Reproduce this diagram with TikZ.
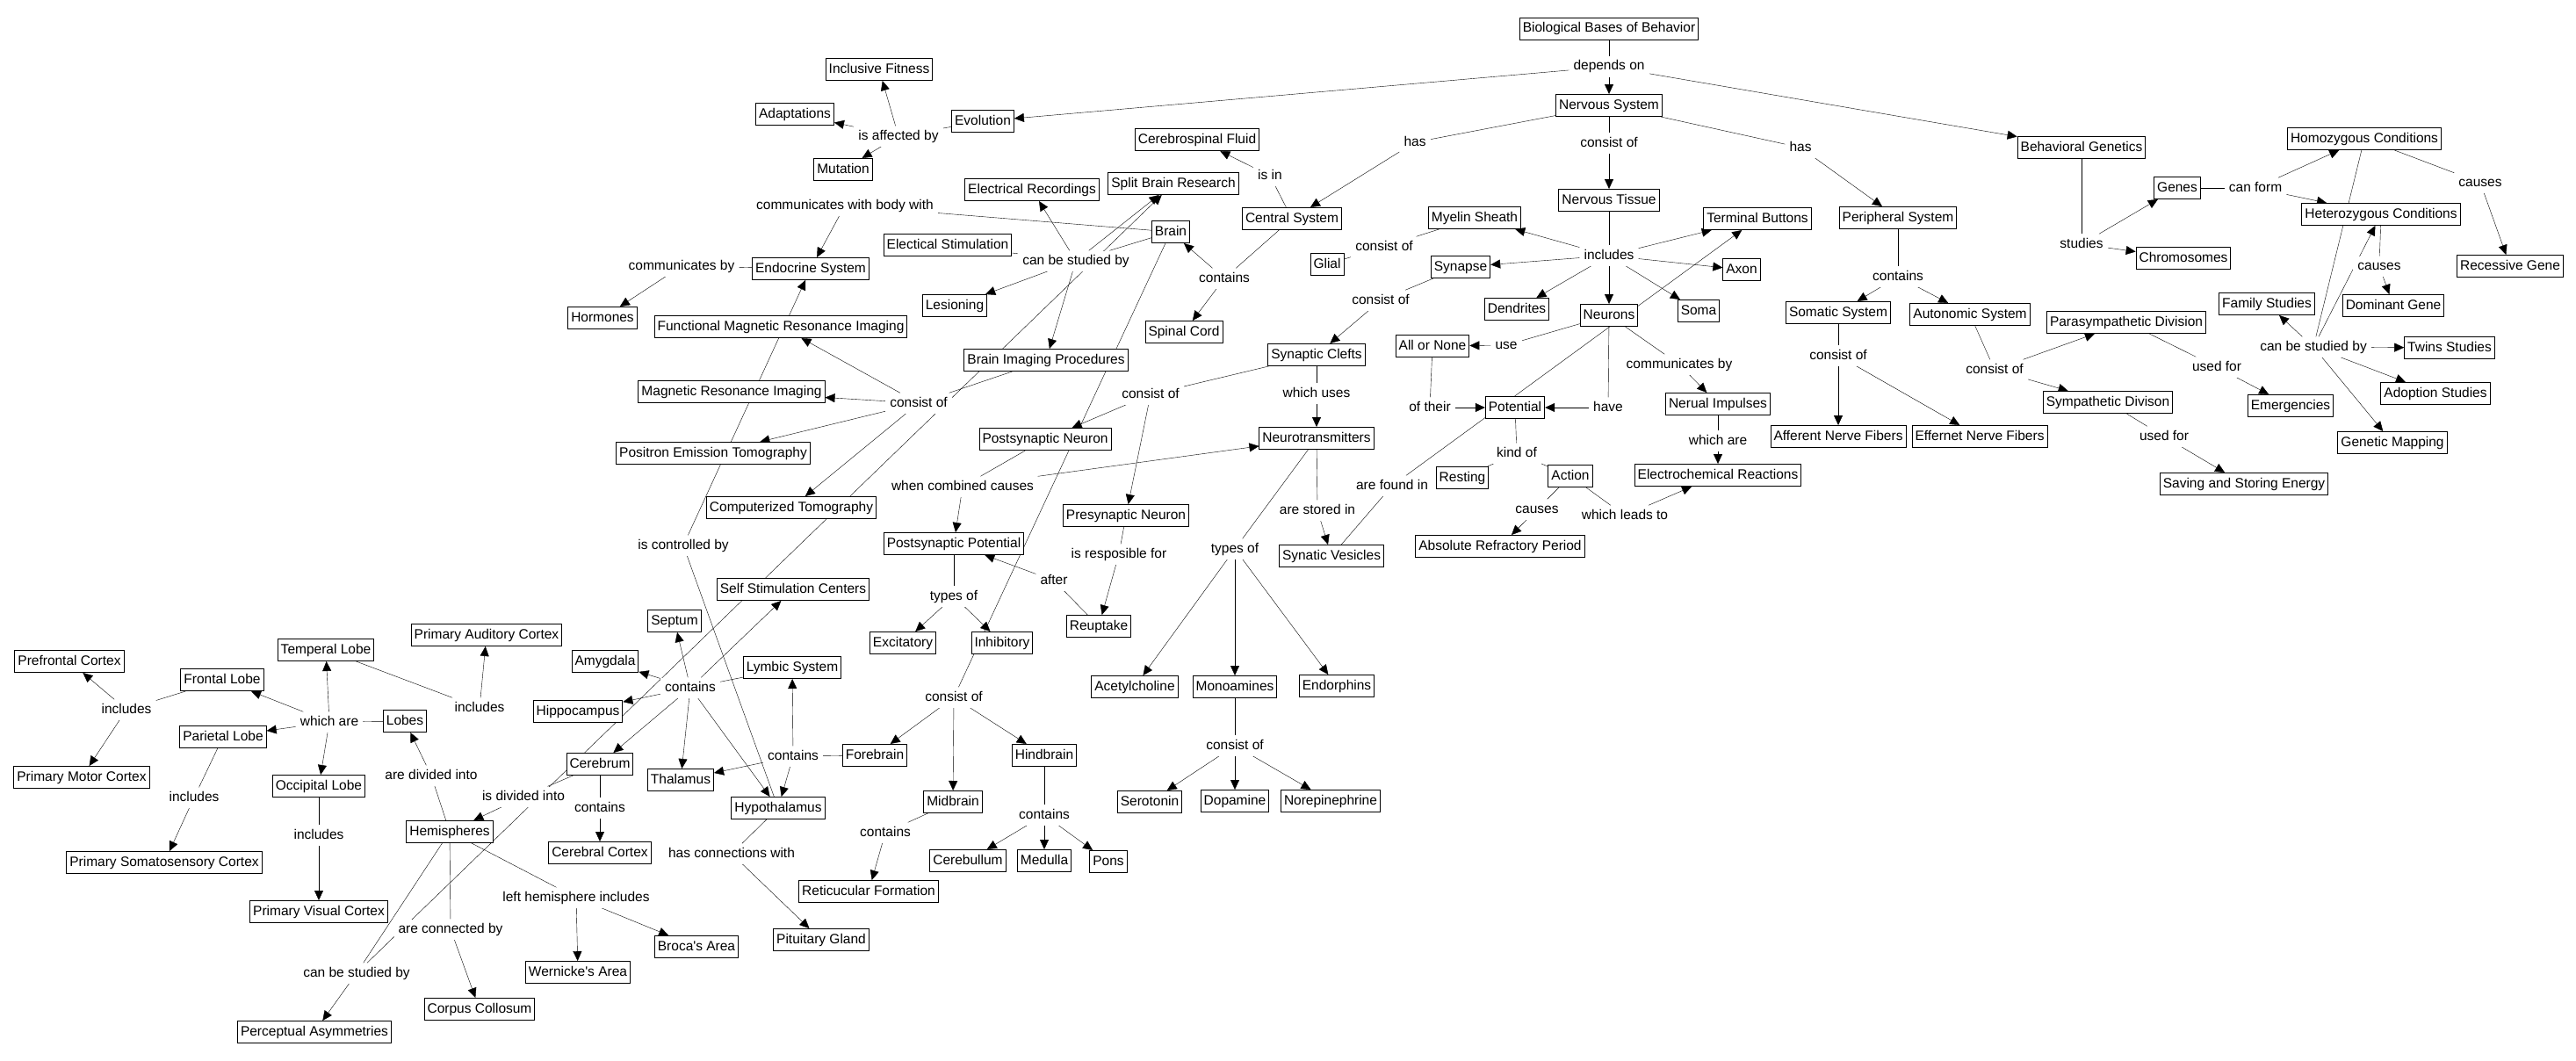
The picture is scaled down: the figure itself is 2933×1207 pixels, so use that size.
\documentclass[tikz,border=0pt]{standalone}
\usepackage{fontspec}
\setmainfont{Liberation Sans}
\usepackage{tikz}
\usetikzlibrary{positioning, arrows.meta, backgrounds}
\tikzstyle{concept} = [rectangle, draw, fill=white, line width=1pt,
    inner xsep=3.5pt, inner ysep=5pt, text height=11.5pt, text depth=3.5pt,
    font=\fontsize{15.5}{18}\selectfont]
\tikzstyle{phrase} = [fill=white, inner xsep=5pt, inner ysep=4pt,
    text height=11.5pt, text depth=3.5pt, font=\fontsize{15.5}{18}\selectfont]

\begin{document}
\begin{tikzpicture}[x=1pt, y=-1pt, node distance=44pt, >={Triangle[length=11pt,width=10pt]}]
\useasboundingbox (0,0) rectangle (2933,1207);

% Top of the map
\node [concept] (bio) at (1832,33) {Biological Bases of Behavior};
\node [phrase, below of=bio, node distance=43pt] (dep) {depends on};
\node [concept, below of=dep] (ns) {Nervous System};
\node [concept] (evol) at (1119,138) {Evolution};
\node [concept] (bgen) at (2370,168) {Behavioral Genetics};

% Evolution
\node [phrase] (affect) at (1023,155) {is affected by};
\node [concept] (incfit) at (1001,79) {Inclusive Fitness};
\node [concept] (adapt) at (905,130) {Adaptations};
\node [concept] (mutat) at (960,193) {Mutation};

% Nervous system
\node [phrase] (hasL) at (1611,162) {has};
\node [phrase, below of=ns, node distance=43pt] (consNS) {consist of};
\node [phrase] (hasR) at (2050,168) {has};
\node [concept, below of=consNS, node distance=65pt] (ntissue) {Nervous Tissue};
\node [phrase, below of=ntissue, node distance=63pt] (incl) {includes};
\node [concept, below of=incl, node distance=68pt] (neurons) {Neurons};

% Central system and brain
\node [concept] (csys) at (1471,249) {Central System};
\node [phrase] (isin) at (1446,200) {is in};
\node [concept] (csf) at (1363,159) {Cerebrospinal Fluid};
\node [phrase] (containsCS) at (1394,317) {contains};
\node [concept] (brain) at (1333,264) {Brain};
\node [concept] (spinal) at (1348,378) {Spinal Cord};
\node [phrase] (commbody) at (962,234) {communicates with body with};
\node [concept] (endo) at (923,306) {Endocrine System};
\node [phrase] (commby) at (776,303) {communicates by};
\node [concept] (hormones) at (686,362) {Hormones};
\node [phrase] (studyB) at (1225,297) {can be studied by};
\node [concept] (elrec) at (1175,216) {Electrical Recordings};
\node [concept] (split) at (1336,209) {Split Brain Research};
\node [concept] (elstim) at (1079,279) {Electical Stimulation};
\node [concept] (lesion) at (1087,348) {Lesioning};
\node [concept] (bip) at (1191,410) {Brain Imaging Procedures};
\node [phrase] (consImg) at (1046,459) {consist of};
\node [concept] (fmri) at (889,372) {Functional Magnetic Resonance Imaging};
\node [concept] (mri) at (833,446) {Magnetic Resonance Imaging};
\node [concept] (pet) at (812,516) {Positron Emission Tomography};
\node [concept] (ct) at (901,578) {Computerized Tomography};
\node [phrase] (controlled) at (778,621) {is controlled by};

% Nervous tissue
\node [concept] (myelin) at (1679,248) {Myelin Sheath};
\node [phrase] (consMy) at (1576,281) {consist of};
\node [concept] (glial) at (1511,301) {Glial};
\node [concept] (synapse) at (1663,304) {Synapse};
\node [concept] (dendr) at (1727,352) {Dendrites};
\node [concept] (soma) at (1934,354) {Soma};
\node [concept] (axon) at (1983,307) {Axon};
\node [concept] (tbutt) at (2001,249) {Terminal Buttons};
\node [phrase] (consSyn) at (1572,342) {consist of};
\node [concept] (clefts) at (1499,404) {Synaptic Clefts};
\node [phrase, below of=clefts] (whichuses) {which uses};
\node [concept, below of=whichuses, node distance=51pt] (ntrans) {Neurotransmitters};
\node [phrase] (consCl) at (1310,449) {consist of};
\node [concept] (postneuron) at (1190,500) {Postsynaptic Neuron};
\node [concept] (preneuron) at (1282,587) {Presynaptic Neuron};
\node [phrase] (combined) at (1096,554) {when combined causes};
\node [concept] (postpot) at (1086,619) {Postsynaptic Potential};
\node [phrase] (respons) at (1274,631) {is resposible for};
\node [concept] (reuptake) at (1251,713) {Reuptake};
\node [phrase] (after) at (1200,661) {after};
\node [phrase] (typesPP) at (1086,679) {types of};
\node [concept] (excit) at (1028,732) {Excitatory};
\node [concept] (inhib) at (1141,732) {Inhibitory};
\node [phrase] (stored) at (1500,581) {are stored in};
\node [concept] (vesicles) at (1516,633) {Synatic Vesicles};
\node [phrase] (typesNT) at (1406,625) {types of};
\node [concept] (acetyl) at (1292,782) {Acetylcholine};
\node [concept, below of=typesNT, node distance=157pt] (monoam) {Monoamines};
\node [concept] (endorph) at (1522,781) {Endorphins};
\node [phrase, below of=monoam, node distance=67pt] (consMono) {consist of};
\node [concept] (serot) at (1309,913) {Serotonin};
\node [concept, below of=consMono, node distance=63pt] (dopam) {Dopamine};
\node [concept] (norepi) at (1515,912) {Norepinephrine};

% Neurons
\node [phrase] (use) at (1715,393) {use};
\node [concept] (allnone) at (1631,394) {All or None};
\node [phrase] (oftheir) at (1628,464) {of their};
\node [concept] (potential) at (1725,464) {Potential};
\node [phrase] (have) at (1831,464) {have};
\node [phrase] (commN) at (1912,415) {communicates by};
\node [concept] (nimp) at (1956,460) {Nerual Impulses};
\node [phrase, below of=nimp, node distance=42pt] (whichare) {which are};
\node [concept, below of=whichare, node distance=39pt] (echem) {Electrochemical Reactions};
\node [phrase] (kindof) at (1727,516) {kind of};
\node [concept] (resting) at (1665,544) {Resting};
\node [concept] (action) at (1788,542) {Action};
\node [phrase] (foundin) at (1585,553) {are found in};
\node [phrase] (causesA) at (1750,580) {causes};
\node [phrase] (leads) at (1850,587) {which leads to};
\node [concept] (absref) at (1708,622) {Absolute Refractory Period};

% Peripheral system
\node [concept] (psys) at (2161,248) {Peripheral System};
\node [phrase, below of=psys, node distance=67pt] (containsPS) {contains};
\node [concept] (somatic) at (2093,356) {Somatic System};
\node [concept] (autonom) at (2243,358) {Autonomic System};
\node [phrase, below of=somatic, node distance=49pt] (consSom) {consist of};
\node [concept, below of=consSom, node distance=92pt] (afferent) {Afferent Nerve Fibers};
\node [concept] (efferent) at (2254,497) {Effernet Nerve Fibers};
\node [phrase] (consAut) at (2271,421) {consist of};
\node [concept] (parasym) at (2421,367) {Parasympathetic Division};
\node [concept] (sympath) at (2400,458) {Sympathetic Divison};
\node [phrase] (usedP) at (2524,418) {used for};
\node [concept] (emerg) at (2608,462) {Emergencies};
\node [phrase] (usedS) at (2464,497) {used for};
\node [concept] (saving) at (2555,551) {Saving and Storing Energy};

% Behavioral genetics
\node [phrase, below of=bgen, node distance=110pt] (studies) {studies};
\node [concept] (genes) at (2479,214) {Genes};
\node [concept] (chromo) at (2486,294) {Chromosomes};
\node [phrase] (canform) at (2568,214) {can form};
\node [concept] (homo) at (2692,158) {Homozygous Conditions};
\node [concept] (hetero) at (2711,244) {Heterozygous Conditions};
\node [phrase] (causesH) at (2824,208) {causes};
\node [concept] (recess) at (2858,303) {Recessive Gene};
\node [phrase] (causesD) at (2709,303) {causes};
\node [concept] (domin) at (2725,348) {Dominant Gene};
\node [phrase] (studyG) at (2634,395) {can be studied by};
\node [concept] (family) at (2581,346) {Family Studies};
\node [concept] (twins) at (2789,396) {Twins Studies};
\node [concept] (adoption) at (2773,448) {Adoption Studies};
\node [concept] (genmap) at (2724,504) {Genetic Mapping};

% Brain structures
\node [phrase] (consBr) at (1086,794) {consist of};
\node [concept] (forebrain) at (996,860) {Forebrain};
\node [concept] (midbrain) at (1085,913) {Midbrain};
\node [concept] (hindbrain) at (1189,860) {Hindbrain};
\node [phrase, below of=hindbrain, node distance=68pt] (containsH) {contains};
\node [concept] (cerebul) at (1102,980) {Cerebullum};
\node [concept, below of=containsH, node distance=52pt] (medulla) {Medulla};
\node [concept] (pons) at (1262,981) {Pons};
\node [phrase] (containsM) at (1008,948) {contains};
\node [concept] (reticul) at (989,1015) {Reticucular Formation};
\node [phrase] (containsF) at (903,861) {contains};
\node [concept] (lymbic) at (902,760) {Lymbic System};
\node [phrase] (containsL) at (786,783) {contains};
\node [concept] (septum) at (768,707) {Septum};
\node [concept] (ssc) at (903,671) {Self Stimulation Centers};
\node [concept] (amyg) at (689,753) {Amygdala};
\node [concept] (hippo) at (658,810) {Hippocampus};
\node [concept] (thalamus) at (775,888) {Thalamus};
\node [concept] (hypoth) at (886,920) {Hypothalamus};
\node [phrase] (connwith) at (833,972) {has connections with};
\node [concept] (pituit) at (935,1070) {Pituitary Gland};
\node [concept] (cerebrum) at (683,870) {Cerebrum};
\node [phrase, below of=cerebrum, node distance=50pt] (containsC) {contains};
\node [concept, below of=containsC, node distance=51pt] (cortex) {Cerebral Cortex};
\node [phrase] (isdiv) at (596,907) {is divided into};
\node [concept] (hemis) at (512,947) {Hemispheres};
\node [phrase] (divided) at (491,883) {are divided into};
\node [concept] (lobes) at (461,821) {Lobes};
\node [phrase] (whicharL) at (375,822) {which are};
\node [concept] (frontlobe) at (253,774) {Frontal Lobe};
\node [concept] (templobe) at (371,740) {Temperal Lobe};
\node [concept] (parlobe) at (254,839) {Parietal Lobe};
\node [concept] (occlobe) at (363,895) {Occipital Lobe};
\node [phrase] (inclL) at (144,808) {includes};
\node [concept] (prefront) at (79,753) {Prefrontal Cortex};
\node [concept] (pmotor) at (93,885) {Primary Motor Cortex};
\node [phrase] (inclT) at (546,806) {includes};
\node [concept] (paudit) at (554,723) {Primary Auditory Cortex};
\node [phrase] (inclP) at (221,908) {includes};
\node [concept] (somato) at (187,982) {Primary Somatosensory Cortex};
\node [phrase, below of=occlobe, node distance=56pt] (inclO) {includes};
\node [concept, below of=inclO, node distance=87pt] (pvisual) {Primary Visual Cortex};
\node [phrase] (lefthem) at (656,1022) {left hemisphere includes};
\node [concept] (wernicke) at (658,1107) {Wernicke\textquotesingle s Area};
\node [concept] (broca) at (793,1078) {Broca\textquotesingle s Area};
\node [phrase] (connby) at (513,1058) {are connected by};
\node [concept] (corpus) at (546,1149) {Corpus Collosum};
\node [phrase] (studyH) at (406,1108) {can be studied by};
\node [concept] (percept) at (358,1175) {Perceptual Asymmetries};

% Connections
\begin{scope}[on background layer, line width=1pt]
\draw (bio) -- (dep);
\draw [->] (dep) -- (evol);
\draw [->] (dep) -- (ns);
\draw [->] (dep) -- (bgen);
\draw (evol) -- (affect);
\draw [->] (affect) -- (incfit);
\draw [->] (affect) -- (adapt);
\draw [->] (affect) -- (mutat);
\draw (ns) -- (hasL);
\draw [->] (hasL) -- (csys);
\draw (ns) -- (consNS);
\draw [->] (consNS) -- (ntissue);
\draw (ns) -- (hasR);
\draw [->] (hasR) -- (psys);

\draw (csys) -- (isin);
\draw [->] (isin) -- (csf);
\draw (csys) -- (containsCS);
\draw [->] (containsCS) -- (brain);
\draw [->] (containsCS) -- (spinal);
\draw (brain) -- (commbody);
\draw [->] (commbody) -- (endo);
\draw (endo) -- (commby);
\draw [->] (commby) -- (hormones);
\draw (brain) -- (studyB);
\draw [->] (studyB) -- (elrec);
\draw [->] (studyB) -- (split);
\draw (studyB) -- (elstim);
\draw [->] (studyB) -- (lesion);
\draw [->] (studyB) -- (bip);
\draw (bip) -- (consImg);
\draw [->] (consImg) -- (fmri);
\draw [->] (consImg) -- (mri);
\draw [->] (consImg) -- (pet);
\draw [->] (consImg) -- (ct);
\draw (hypoth) -- (controlled);
\draw [->] (controlled) -- (endo);
\draw (brain) -- (consBr);
\draw [->] (consBr) -- (forebrain);
\draw [->] (consBr) -- (midbrain);
\draw [->] (consBr) -- (hindbrain);

\draw (ntissue) -- (incl);
\draw [->] (incl) -- (myelin);
\draw [->] (incl) -- (synapse);
\draw [->] (incl) -- (dendr);
\draw [->] (incl) -- (neurons);
\draw [->] (incl) -- (soma);
\draw [->] (incl) -- (axon);
\draw [->] (incl) -- (tbutt);
\draw (myelin) -- (consMy);
\draw (consMy) -- (glial);
\draw (synapse) -- (consSyn);
\draw [->] (consSyn) -- (clefts);
\draw (clefts) -- (consCl);
\draw [->] (consCl) -- (postneuron);
\draw [->] (consCl) -- (preneuron);
\draw (clefts) -- (whichuses);
\draw [->] (whichuses) -- (ntrans);
\draw (postneuron) -- (combined);
\draw [->] (combined) -- (postpot);
\draw [->] (combined) -- (ntrans);
\draw (preneuron) -- (respons);
\draw [->] (respons) -- (reuptake);
\draw (reuptake) -- (after);
\draw [->] (after) -- (postpot);
\draw (postpot) -- (typesPP);
\draw [->] (typesPP) -- (excit);
\draw [->] (typesPP) -- (inhib);
\draw (ntrans) -- (stored);
\draw [->] (stored) -- (vesicles);
\draw (ntrans) -- (typesNT);
\draw [->] (typesNT) -- (acetyl);
\draw [->] (typesNT) -- (monoam);
\draw [->] (typesNT) -- (endorph);
\draw (monoam) -- (consMono);
\draw [->] (consMono) -- (serot);
\draw [->] (consMono) -- (dopam);
\draw [->] (consMono) -- (norepi);
\draw (vesicles) -- (foundin);
\draw [->] (foundin) -- (tbutt);
\draw (neurons) -- (use);
\draw [->] (use) -- (allnone);
\draw (allnone) -- (oftheir);
\draw [->] (oftheir) -- (potential);
\draw (neurons) -- (have);
\draw [->] (have) -- (potential);
\draw (neurons) -- (commN);
\draw [->] (commN) -- (nimp);
\draw (nimp) -- (whichare);
\draw [->] (whichare) -- (echem);
\draw (potential) -- (kindof);
\draw (kindof) -- (resting);
\draw (kindof) -- (action);
\draw (action) -- (causesA);
\draw [->] (causesA) -- (absref);
\draw (action) -- (leads);
\draw [->] (leads) -- (echem);

\draw (psys) -- (containsPS);
\draw [->] (containsPS) -- (somatic);
\draw [->] (containsPS) -- (autonom);
\draw (somatic) -- (consSom);
\draw [->] (consSom) -- (afferent);
\draw [->] (consSom) -- (efferent);
\draw (autonom) -- (consAut);
\draw [->] (consAut) -- (parasym);
\draw [->] (consAut) -- (sympath);
\draw (parasym) -- (usedP);
\draw [->] (usedP) -- (emerg);
\draw (sympath) -- (usedS);
\draw [->] (usedS) -- (saving);

\draw (bgen) -- (studies);
\draw [->] (studies) -- (genes);
\draw [->] (studies) -- (chromo);
\draw (genes) -- (canform);
\draw [->] (canform) -- (homo);
\draw [->] (canform) -- (hetero);
\draw (homo) -- (causesH);
\draw [->] (causesH) -- (recess);
\draw (hetero) -- (causesD);
\draw [->] (causesD) -- (domin);
\draw (homo) -- (studyG);
\draw [->] (studyG) -- (hetero);
\draw [->] (studyG) -- (family);
\draw [->] (studyG) -- (twins);
\draw [->] (studyG) -- (adoption);
\draw [->] (studyG) -- (genmap);

\draw (lymbic) -- (containsL);
\draw [->] (containsL) -- (septum);
\draw [->] (containsL) -- (ssc);
\draw [->] (containsL) -- (amyg);
\draw [->] (containsL) -- (hippo);
\draw [->] (containsL) -- (cerebrum);
\draw [->] (containsL) -- (thalamus);
\draw [->] (containsL) -- (hypoth);
\draw (forebrain) -- (containsF);
\draw [->] (containsF) -- (thalamus);
\draw [->] (containsF) -- (hypoth);
\draw [->] (containsF) -- (lymbic);
\draw (hypoth) -- (connwith);
\draw [->] (connwith) -- (pituit);
\draw (midbrain) -- (containsM);
\draw [->] (containsM) -- (reticul);
\draw (hindbrain) -- (containsH);
\draw [->] (containsH) -- (cerebul);
\draw [->] (containsH) -- (medulla);
\draw [->] (containsH) -- (pons);
\draw (cerebrum) -- (isdiv);
\draw [->] (isdiv) -- (hemis);
\draw (cerebrum) -- (containsC);
\draw [->] (containsC) -- (cortex);
\draw (hemis) -- (divided);
\draw [->] (divided) -- (lobes);
\draw (lobes) -- (whicharL);
\draw [->] (whicharL) -- (frontlobe);
\draw [->] (whicharL) -- (templobe);
\draw [->] (whicharL) -- (parlobe);
\draw [->] (whicharL) -- (occlobe);
\draw (frontlobe) -- (inclL);
\draw [->] (inclL) -- (prefront);
\draw [->] (inclL) -- (pmotor);
\draw (templobe) -- (inclT);
\draw [->] (inclT) -- (paudit);
\draw (parlobe) -- (inclP);
\draw [->] (inclP) -- (somato);
\draw (occlobe) -- (inclO);
\draw [->] (inclO) -- (pvisual);
\draw (hemis) -- (lefthem);
\draw [->] (lefthem) -- (wernicke);
\draw [->] (lefthem) -- (broca);
\draw (hemis) -- (connby);
\draw [->] (connby) -- (corpus);
\draw (hemis) -- (studyH);
\draw [->] (studyH) -- (percept);
\draw [->] (studyH) -- (split);
\end{scope}

\end{tikzpicture}
\end{document}
